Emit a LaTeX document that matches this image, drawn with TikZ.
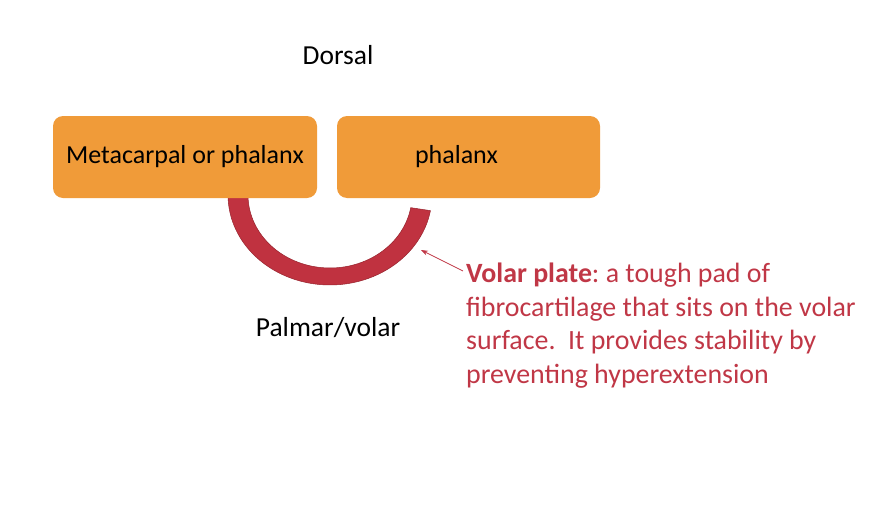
\documentclass[tikz,border=0pt]{standalone}
\usepackage{fontspec}
\setmainfont{Carlito}
\usepackage{xcolor}
\usetikzlibrary{positioning,arrows.meta}

\definecolor{bone}{RGB}{240,155,57}
\definecolor{plate}{RGB}{192,50,64}
\definecolor{plateedge}{RGB}{150,35,45}
\definecolor{notered}{RGB}{192,55,70}

\begin{document}
\frenchspacing
\begin{tikzpicture}[
  x=1pt, y=-1pt,
  >=Stealth,
  every node/.style={font=\fontsize{26}{30}\selectfont},
  box/.style={fill=bone, rounded corners=10pt, align=center,
              minimum width=264pt, minimum height=82pt, inner sep=2pt},
  label/.style={text=black, inner sep=0pt, font=\fontsize{27.5}{32}\selectfont},
  note/.style={text=notered, align=left, inner sep=0pt,
               font=\fontsize{27.9}{33.6}\selectfont},
  pointer/.style={->, notered, line width=0.8pt,
                  arrows={-Stealth[length=7pt,width=5pt]}},
]
\useasboundingbox (0,0) rectangle (896,530);

% volar plate band
\path[fill=plate, draw=plateedge, line width=0.5pt]
  plot[domain=180:10, samples=60] ({330+102*cos(\x)}, {195+90*sin(\x)})
  -- plot[domain=10:180, samples=60] ({330+82*cos(\x)}, {195+73*sin(\x)})
  -- cycle;

\node[box]                         (proximal) at (185,157) {Metacarpal or phalanx};
\node[box, minimum width=263pt]    (distal)   at (468.5,157) {\hspace*{-24pt}phalanx};

\node[label] (dorsal) at (338,55)  {Dorsal};
\node[label] (palmar) at (328,328) {Palmar/volar};

\node[note, anchor=north west] (desc) at (466,263)
  {\textbf{Volar plate}: a tough pad of\\
   fibrocartilage that sits on the volar\\
   surface.\ \ It provides stability by\\
   preventing hyperextension};

\coordinate (tail) at (463,271);
\coordinate (tip)  at (421,250);
\draw[pointer] (tail) -- (tip);
\end{tikzpicture}
\end{document}
